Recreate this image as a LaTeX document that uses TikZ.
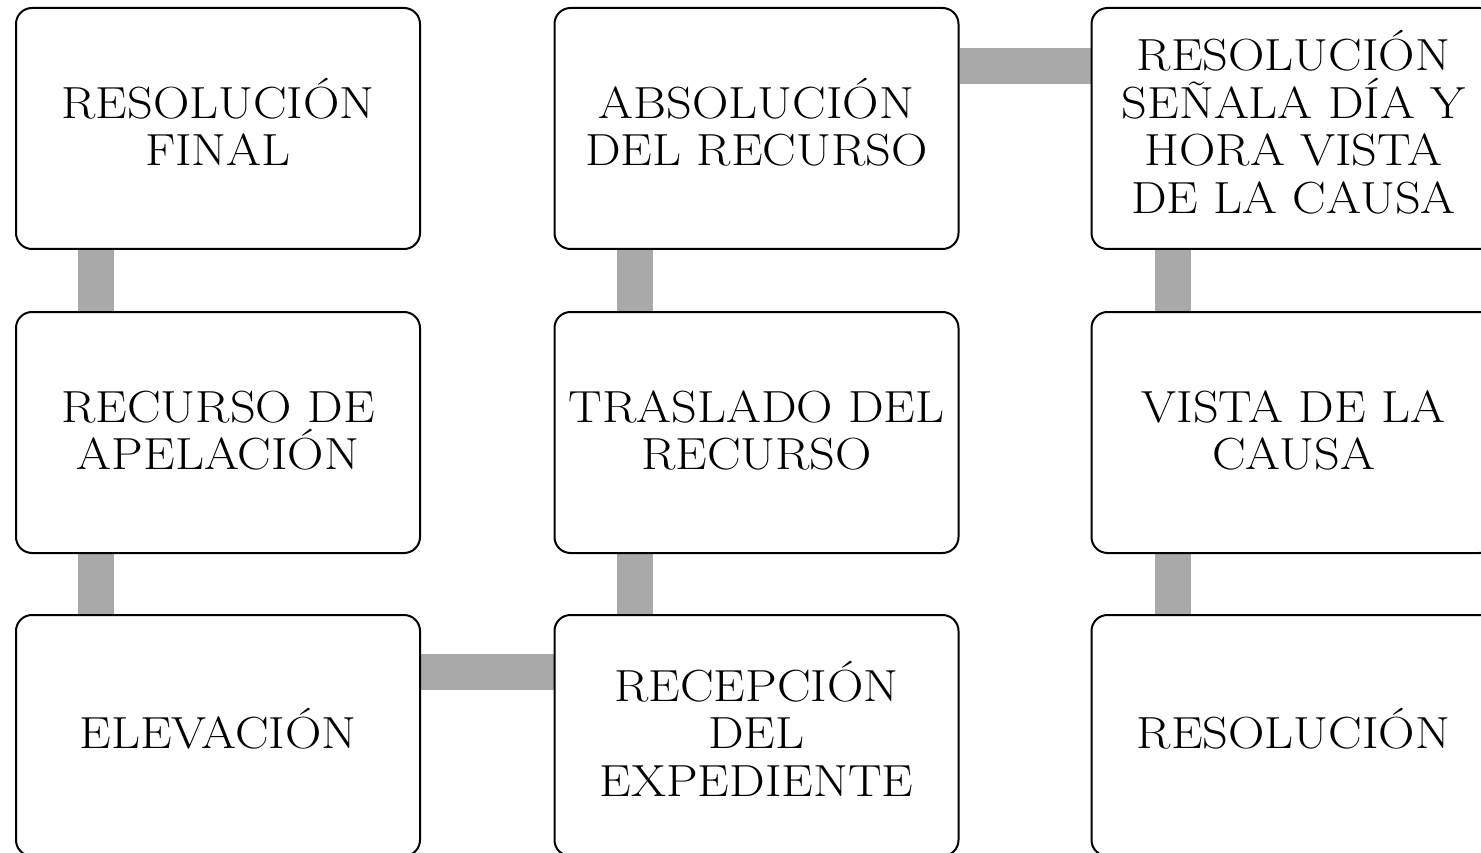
\documentclass[tikz,border=0pt]{standalone}
\usepackage{fontspec}
\setmainfont{Latin Modern Roman}[FakeStretch=1.12]
\usetikzlibrary{backgrounds,calc}
\definecolor{conn}{RGB}{169,169,169}
\newcommand\firstline[1]{\smash{#1}\vphantom{E}}
\tikzset{
  stepbox/.style={draw=black, line width=2pt, fill=white, rounded corners=16pt,
    minimum width=404pt, minimum height=241pt, inner sep=0pt, align=center,
    font=\fontsize{45}{47.5}\selectfont,
    execute at end node={\rule[-4pt]{0pt}{4pt}}},
  link/.style={draw=conn, line width=36pt, line cap=butt}
}
\begin{document}
\begin{tikzpicture}[x=1pt,y=1pt]
\useasboundingbox (0,0) rectangle (1481,-853);
% column 1
\node[stepbox] (rf)  at (218,-128.5) {\firstline{RESOLUCIÓN}\\FINAL};
\node[stepbox] (ra)  at (218,-432.5) {\firstline{RECURSO DE}\\APELACIÓN};
\node[stepbox] (el)  at (218,-735.5) {\firstline{ELEVACIÓN}};
% column 2
\node[stepbox] (ab)  at (756.5,-128.5) {\firstline{ABSOLUCIÓN}\\DEL RECURSO};
\node[stepbox] (tr)  at (756.5,-432.5) {\firstline{TRASLADO DEL}\\RECURSO};
\node[stepbox] (re)  at (756.5,-735.5) {\firstline{RECEPCIÓN}\\DEL\\EXPEDIENTE};
% column 3
\node[stepbox] (rs)  at (1293.5,-128.5) {\firstline{RESOLUCIÓN}\\SEÑALA DÍA Y\\HORA VISTA\\DE LA CAUSA};
\node[stepbox] (vc)  at (1293.5,-432.5) {\firstline{VISTA DE LA}\\CAUSA};
\node[stepbox] (rl)  at (1293.5,-735.5) {\firstline{RESOLUCIÓN}};
\begin{scope}[on background layer]
  \draw[link] ($(rf.south west)+(81,0)$) -- ($(ra.north west)+(81,0)$);
  \draw[link] ($(ra.south west)+(81,0)$) -- ($(el.north west)+(81,0)$);
  \draw[link] ($(el.north east)+(0,-58)$) -- ($(re.north west)+(0,-58)$);
  \draw[link] ($(re.north west)+(81,0)$) -- ($(tr.south west)+(81,0)$);
  \draw[link] ($(tr.north west)+(81,0)$) -- ($(ab.south west)+(81,0)$);
  \draw[link] ($(ab.north east)+(0,-59)$) -- ($(rs.north west)+(0,-59)$);
  \draw[link] ($(rs.south west)+(82,0)$) -- ($(vc.north west)+(82,0)$);
  \draw[link] ($(vc.south west)+(82,0)$) -- ($(rl.north west)+(82,0)$);
\end{scope}
\end{tikzpicture}
\end{document}
